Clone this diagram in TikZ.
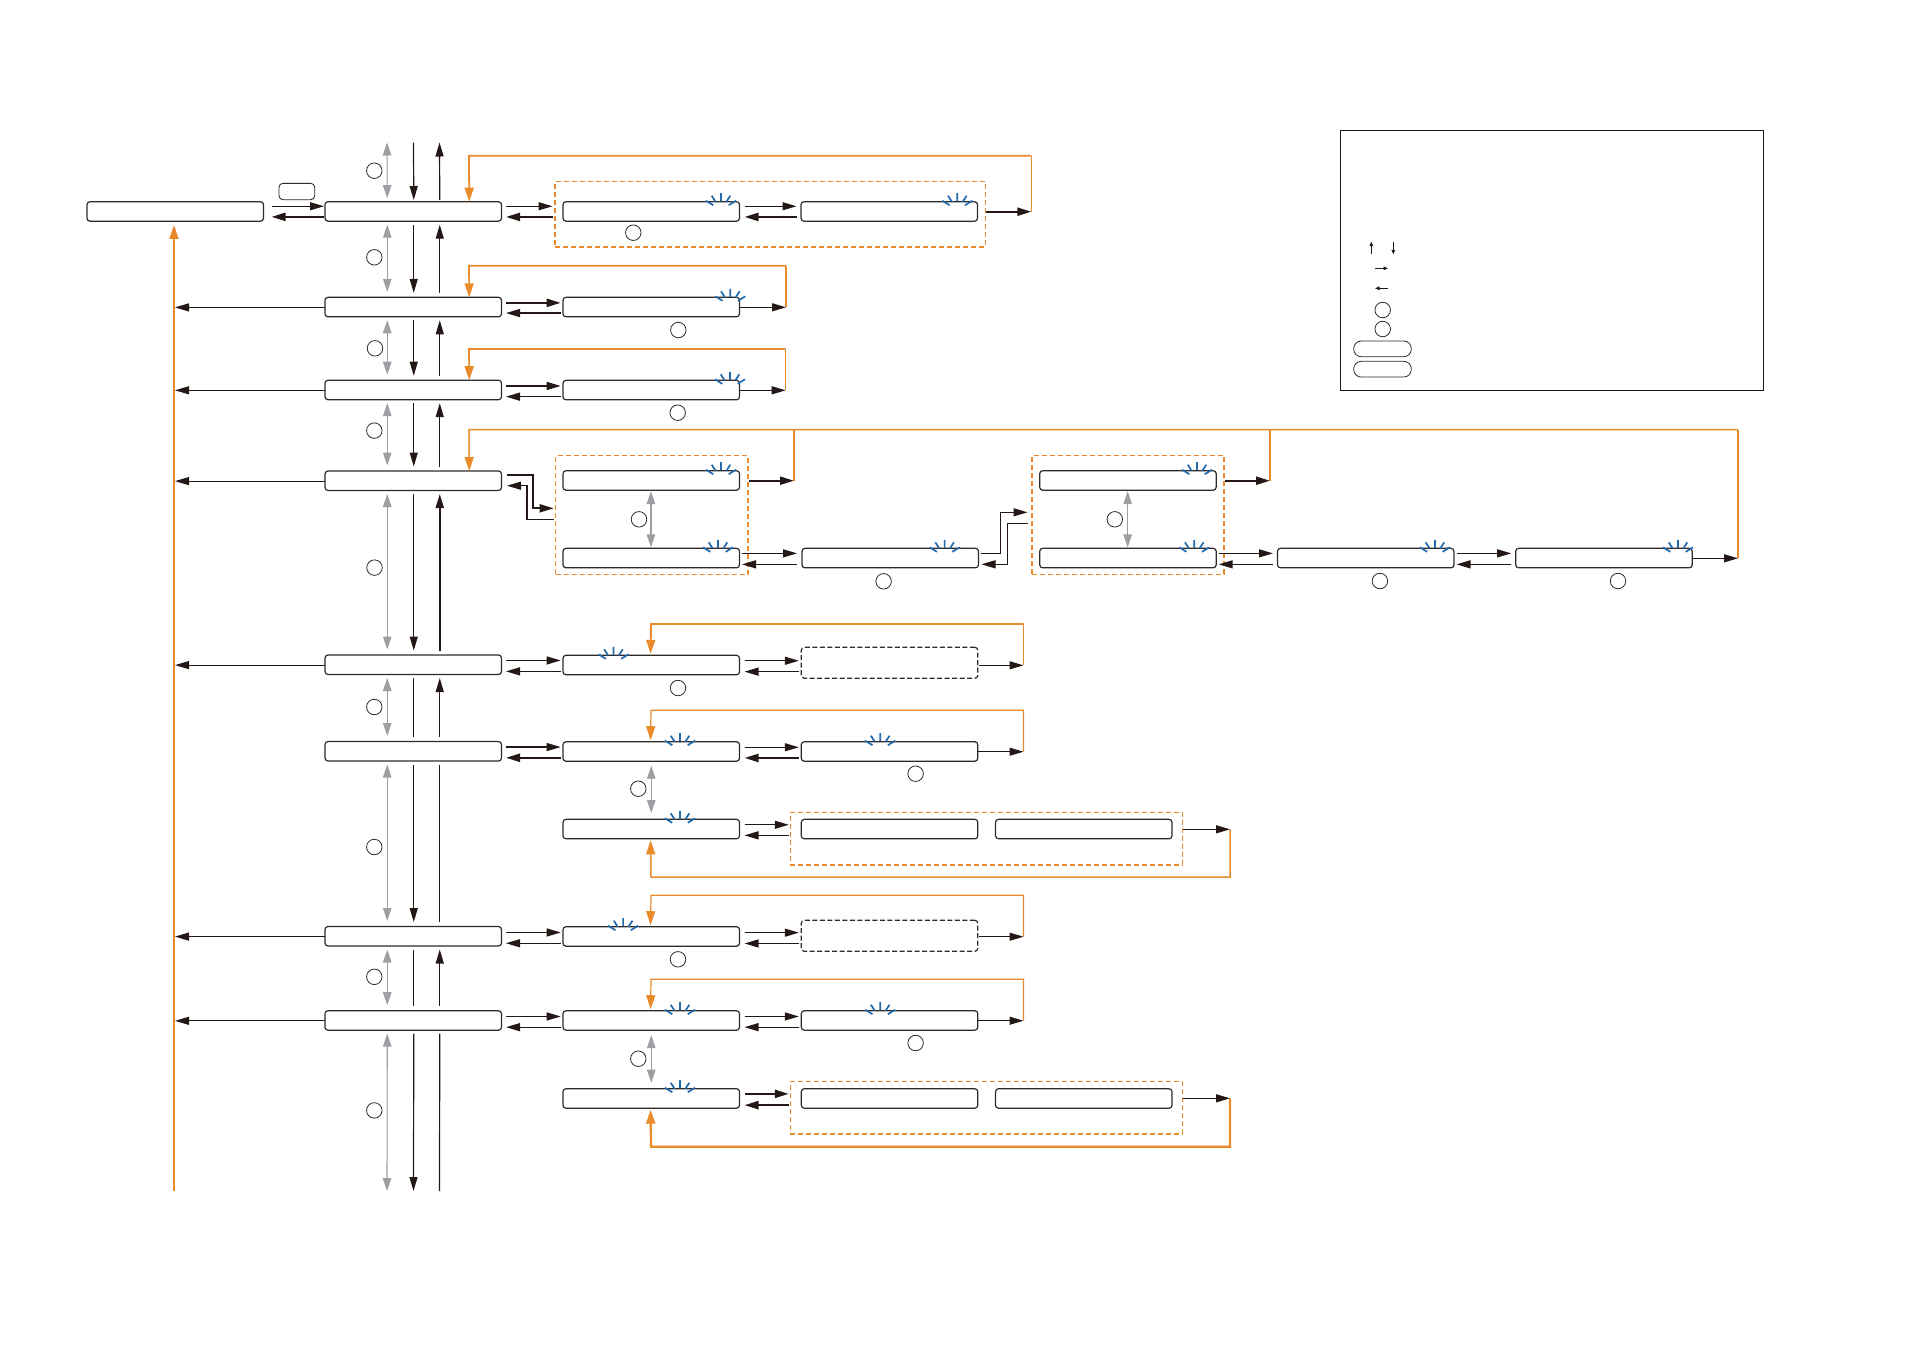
\documentclass[tikz,border=0pt]{standalone}
\usetikzlibrary{arrows.meta}
\definecolor{ink}{HTML}{231815}
\definecolor{boxc}{HTML}{2F2A28}
\definecolor{orng}{HTML}{E98B2A}
\definecolor{gry}{HTML}{9D9FA2}
\definecolor{blu}{HTML}{2369AD}
\tikzset{
  lcd/.style={draw=boxc,line width=1.2pt,rounded corners=3pt,minimum width=176.5pt,minimum height=19.5pt,inner sep=0pt,outer sep=0pt,anchor=north west,fill=white},
  dashlcd/.style={lcd,dash pattern=on 5pt off 2.5pt,minimum height=31pt},
  grp/.style={draw=orng,line width=1.5pt,dash pattern=on 5pt off 3pt,inner sep=0pt,outer sep=0pt,anchor=north west,minimum width=#1},
  circ/.style={circle,draw=boxc,line width=.8pt,minimum size=15.5pt,inner sep=0pt,outer sep=0pt,fill=white},
  pill/.style={draw=boxc,line width=.8pt,rounded corners=7.5pt,minimum width=57.6pt,minimum height=15.7pt,inner sep=0pt,outer sep=0pt,anchor=north west},
  conn/.style={draw=ink,line width=1.2pt},
  bold/.style={draw=ink,line width=2.2pt},
  hd/.style={-{Triangle[length=14pt,width=8pt,fill=ink,color=ink]}},
  oline/.style={draw=orng,line width=#1},
  ohd/.style={-{Triangle[length=14pt,width=9pt,fill=orng,color=orng]}},
  gline/.style={draw=gry,line width=1.1pt,{Triangle[length=13pt,width=8.5pt,fill=gry,color=gry]}-{Triangle[length=13pt,width=8.5pt,fill=gry,color=gry]}},
  sm/.style={draw=ink,line width=.9pt,-{Triangle[length=4.5pt,width=3.6pt,fill=ink,color=ink]}},
  blink/.pic={
    \draw[blu,line width=1.7pt] (0,-8.5)--(0,-.5) (-9.3,-6)--(-5.3,.2) (9.3,-6)--(5.3,.2) (-15,-1)--(-7.7,3.5) (15,-1)--(7.7,3.5);
  }
}
% #1 from #2 to, #3 #4 gaps, #5 #6 dy, #7 #8 line styles
\newcommand\pairs[8]{
  \draw[#7,hd] ([shift={(#3,#5)}]#1.east) -- ([shift={(-#4,#5)}]#1.east -| #2.west);
  \draw[#8,hd] ([shift={(-#4,#6)}]#1.east -| #2.west) -- ([shift={(#3,#6)}]#1.east);
}
% #1 upper #2 lower, #3 down head, #4 up head
\newcommand\vlinks[4]{
  \draw[gline] ([shift={(-26,3.5)}]#1.south) -- ([shift={(-26,-5.5)}]#2.north);
  \draw[conn,#3] ([shift={(.5,3.5)}]#1.south) -- ([shift={(.5,-4.5)}]#2.north);
  \draw[conn,#4] ([shift={(26.5,-4.5)}]#2.north) -- ([shift={(26.5,3.5)}]#1.south);
}
\begin{document}
\begin{tikzpicture}[x=1pt,y=-1pt]
\useasboundingbox (0,0) rectangle (1910,1350);
\fill[white] (0,0) rectangle (1910,1350);

% dashed groups
\node[grp=430.3pt,minimum height=65.3pt] (g0) at (555,181.7) {};
\node[grp=192.3pt,minimum height=118.6pt] (gd) at (555.7,455.7) {};
\node[grp=192pt,minimum height=118.6pt] (ge) at (1032,455.7) {};
\node[grp=392pt,minimum height=52.7pt] (gh) at (790.3,812.3) {};
\node[grp=392pt,minimum height=52.7pt] (gk) at (790.3,1081.3) {};

% main column
\node[lcd] (A) at (87,201.7) {};
\node[lcd] (r0) at (325,201.7) {};
\node[lcd] (r1) at (325,297.3) {};
\node[lcd] (r2) at (325,380.2) {};
\node[lcd] (r3) at (325,471) {};
\node[lcd] (r4) at (325,655) {};
\node[lcd] (r5) at (325,741.5) {};
\node[lcd] (r7) at (325,926.5) {};
\node[lcd] (r8) at (325,1010.7) {};

% sub boxes
\node[lcd] (a1) at (563,201.7) {};
\node[lcd] (a2) at (801,201.7) {};
\node[lcd] (b1) at (563,297.3) {};
\node[lcd] (c1) at (563,380.3) {};
\node[lcd] (d1) at (563,470.7) {};
\node[lcd] (d2) at (563,548.3) {};
\node[lcd] (d3) at (802,548.3) {};
\node[lcd] (e1) at (1039.7,470.7) {};
\node[lcd] (e2) at (1039.7,548.3) {};
\node[lcd] (e3) at (1277.5,548.3) {};
\node[lcd] (e4) at (1515.7,548.3) {};
\node[lcd] (f1) at (563,655.3) {};
\node[dashlcd] (f2) at (801.3,647.3) {};
\node[lcd] (g1) at (563,741.7) {};
\node[lcd] (g2) at (801.3,741.7) {};
\node[lcd] (h1) at (563,819.3) {};
\node[lcd] (h2) at (801.3,819.3) {};
\node[lcd] (h3) at (995.5,819.3) {};
\node[lcd] (i1) at (563,926.7) {};
\node[dashlcd] (i2) at (801.3,920.3) {};
\node[lcd] (j1) at (563,1010.7) {};
\node[lcd] (j2) at (801.3,1010.7) {};
\node[lcd] (k1) at (563,1088.7) {};
\node[lcd] (k2) at (801.3,1088.7) {};
\node[lcd] (k3) at (995.5,1088.7) {};

% small key box
\node[lcd,minimum width=35.7pt,minimum height=16.4pt,line width=.9pt,rounded corners=4pt] (key) at (279,183.3) {};

% blink marks
\pic at ([xshift=158]a1.north west) {blink};
\pic at ([xshift=156.3]a2.north west) {blink};
\pic at ([xshift=167.3]b1.north west) {blink};
\pic at ([xshift=167]c1.north west) {blink};
\pic at ([xshift=158]d1.north west) {blink};
\pic at ([xshift=155]d2.north west) {blink};
\pic at ([xshift=142.6]d3.north west) {blink};
\pic at ([xshift=157.3]e1.north west) {blink};
\pic at ([xshift=154.5]e2.north west) {blink};
\pic at ([xshift=157.4]e3.north west) {blink};
\pic at ([xshift=162.3]e4.north west) {blink};
\pic at ([xshift=50.5]f1.north west) {blink};
\pic at ([xshift=117]g1.north west) {blink};
\pic at ([xshift=78.9]g2.north west) {blink};
\pic at ([xshift=117]h1.north west) {blink};
\pic at ([xshift=60.1]i1.north west) {blink};
\pic at ([xshift=117]j1.north west) {blink};
\pic at ([xshift=78.9]j2.north west) {blink};
\pic at ([xshift=117]k1.north west) {blink};

% free ends
\coordinate (vtop) at (413,142.5);
\coordinate (vbot) at (413,1191);
\coordinate (mainb) at (174,1191);

% vertical links
\draw[gline] ([xshift=-26]vtop) -- ([shift={(-26,-3.5)}]r0.north);
\draw[conn,hd] ([xshift=.5]vtop) -- ([shift={(.5,-1.7)}]r0.north);
\draw[conn,hd] ([shift={(26.5,-1.7)}]r0.north) -- ([xshift=26.5]vtop);
\vlinks{r0}{r1}{hd}{hd}
\vlinks{r1}{r2}{hd}{hd}
\vlinks{r2}{r3}{hd}{hd}
\vlinks{r3}{r4}{hd}{hd,line width=2pt}
\vlinks{r4}{r5}{}{hd}
\vlinks{r5}{r7}{hd}{}
\vlinks{r7}{r8}{}{hd}
\draw[gline] ([shift={(-26,3.5)}]r8.south) -- ([xshift=-26]vbot);
\draw[conn,hd] ([shift={(.5,3.5)}]r8.south) -- ([xshift=.5]vbot);
\draw[conn] ([xshift=26.5]vbot) -- ([shift={(26.5,3.5)}]r8.south);

% orange main line and its feeders
\draw[oline=2pt,ohd] (mainb) -- ([shift={(0,3.7)}]mainb |- A.south);
\foreach \n in {r1,r2,r3,r4,r7,r8}{
  \draw[conn,line width=1.05pt,hd] ([shift={(0,.35)}]\n.west) -- ([shift={(1,.35)}]\n.west -| mainb);
}

% horizontal pairs
\pairs{A}{r0}{8}{1}{-5.2}{5.4}{conn}{bold}
\pairs{r0}{g0}{4.5}{2.5}{-5.2}{5.5}{conn}{bold}
\pairs{a1}{a2}{5}{4.5}{-5.2}{5.5}{conn}{bold}
\pairs{r1}{b1}{4.5}{2.3}{-4.2}{6}{bold}{conn}
\pairs{r2}{c1}{4.5}{2.3}{-4}{6.7}{conn}{conn}
\pairs{r4}{f1}{4.5}{2.3}{-4.3}{6.6}{conn}{conn}
\pairs{f1}{f2}{5}{2.5}{-4.3}{6.6}{conn}{conn}
\pairs{r5}{g1}{4.5}{2.3}{-4.2}{6.5}{conn}{bold}
\pairs{g1}{g2}{5}{2.5}{-4.2}{6.5}{conn}{bold}
\pairs{h1}{gh}{5}{1.5}{-4.3}{6.3}{conn}{conn}
\pairs{r7}{i1}{4.5}{2.3}{-3.8}{7}{conn}{conn}
\pairs{i1}{i2}{5}{2.5}{-3.8}{7}{conn}{conn}
\pairs{r8}{j1}{4.5}{2.3}{-4}{6.7}{conn}{conn}
\pairs{j1}{j2}{5}{2.5}{-4}{6.7}{conn}{conn}
\pairs{k1}{gk}{5}{1.5}{-4.6}{6.7}{bold}{bold}
\pairs{d2}{d3}{2.5}{5}{-4.7}{6.3}{conn}{conn}
\pairs{e2}{e3}{2.5}{4.5}{-4.7}{6.3}{conn}{conn}
\pairs{e3}{e4}{2.5}{4.5}{-4.7}{6.3}{conn}{conn}

% row 3 stepped links
\coordinate (s1) at (533,474.7);
\coordinate (s2) at (533,508.3);
\coordinate (s3) at (527,485.7);
\coordinate (s4) at (527,519.3);
\draw[bold,line width=1.8pt,hd] (s1 -| r3.east) ++(5,0) -- (s1) -- (s2) -- ([xshift=-2]s2 -| gd.west);
\draw[conn,hd] ([xshift=-2]s4 -| gd.west) -- (s4) -- (s3) -- ([xshift=5.5]s3 -| r3.east);
\coordinate (u1) at (1000.4,553.3);
\coordinate (u2) at (1000.4,512.3);
\coordinate (u3) at (1007.5,564.3);
\coordinate (u4) at (1007.5,523.3);
\draw[conn,hd] ([xshift=2.4]u1 -| d3.east) -- (u1) -- (u2) -- ([xshift=-4.5]u2 -| ge.west);
\draw[conn,hd] ([xshift=-4.5]u4 -| ge.west) -- (u4) -- (u3) -- ([xshift=3]u3 -| d3.east);

% gray links inside groups
\draw[gline] ([shift={(-.3,1)}]d1.south) -- ([shift={(-.3,-1)}]d2.north);
\draw[gline] ([shift={(-.3,1)}]e1.south) -- ([shift={(-.3,-1)}]e2.north);
\draw[gline] ([shift={(0,4.5)}]g1.south) -- ([shift={(0,-6.3)}]h1.north);
\draw[gline] ([shift={(0,5)}]j1.south) -- ([shift={(0,-6)}]k1.north);

% orange return loops with black tails
\coordinate (t0) at (469,155.7);
\coordinate (q0) at (1031.3,211.7);
\draw[oline=1.2pt] (q0) -- (q0 |- t0);
\draw[oline=1.8pt,ohd] (q0 |- t0) -- (t0) -- ([xshift=56]r0.north);
\draw[bold,hd] (q0 -| g0.east) ++(1,0) -- (q0);

\coordinate (t1) at (469,265.8);
\coordinate (q1) at (786,307.3);
\draw[oline=2.2pt] (q1) -- (q1 |- t1);
\draw[oline=1.7pt,ohd] (q1 |- t1) -- (t1) -- ([xshift=56]r1.north);
\draw[conn,hd] (q1 -| b1.east) -- (q1);

\coordinate (t2) at (469,349);
\coordinate (q2) at (785.7,390.3);
\draw[oline=1.3pt] (q2) -- (q2 |- t2);
\draw[oline=1.7pt,ohd] (q2 |- t2) -- (t2) -- ([xshift=56]r2.north);
\draw[conn,hd] (q2 -| c1.east) -- (q2);

\coordinate (t3) at (469,429.7);
\coordinate (q3) at (794,480.7);
\coordinate (q4) at (1270,480.7);
\coordinate (q5) at (1738,558.3);
\draw[oline=1.1pt] (q3) -- (q3 |- t3);
\draw[oline=1.1pt] (q4) -- (q4 |- t3);
\draw[oline=1.1pt] (q5) -- (q5 |- t3);
\draw[oline=1.5pt,ohd] (q5 |- t3) -- (t3) -- ([xshift=56]r3.north);
\draw[bold,hd] (q3 -| gd.east) ++(1,0) -- (q3);
\draw[bold,hd] (q4 -| ge.east) ++(1,0) -- (q4);
\draw[conn,hd] (q5 -| e4.east) -- (q5);

\coordinate (t6) at (651,624);
\coordinate (q6) at (1023.5,665.3);
\draw[oline=1.2pt] (q6) -- (q6 |- t6);
\draw[oline=1.9pt,ohd] (q6 |- t6) -- (t6) -- ([xshift=-.7,yshift=1.5]f1.north);
\draw[conn,hd] ([xshift=1]q6 -| f2.east) -- (q6);

\coordinate (t7) at (651,710.3);
\coordinate (q7) at (1023.5,751.7);
\draw[oline=1.2pt,ohd] (q7) -- (q7 |- t7) -- (t7) -- ([xshift=-.7,yshift=1.5]g1.north);
\draw[conn,hd] (q7 -| g2.east) -- (q7);

\coordinate (t8) at (651,877);
\coordinate (q8) at (1230,829.3);
\draw[oline=1.5pt,ohd] (q8) -- (q8 |- t8) -- (t8) -- ([xshift=-.7,yshift=-1.5]h1.south);
\draw[conn,hd] ([xshift=1]q8 -| gh.east) -- (q8);

\coordinate (t9) at (651,895.3);
\coordinate (q9) at (1023.5,936.7);
\draw[oline=1.2pt,ohd] (q9) -- (q9 |- t9) -- (t9) -- ([xshift=-.7,yshift=1.5]i1.north);
\draw[conn,hd] ([xshift=1]q9 -| i2.east) -- (q9);

\coordinate (t10) at (651,979.3);
\coordinate (q10) at (1023.5,1020.7);
\draw[oline=1.2pt,ohd] (q10) -- (q10 |- t10) -- (t10) -- ([xshift=-.7,yshift=1.5]j1.north);
\draw[conn,hd] (q10 -| j2.east) -- (q10);

\coordinate (t11) at (651,1146.7);
\coordinate (q11) at (1230,1098.3);
\draw[oline=2.2pt,ohd] (q11) -- (q11 |- t11) -- (t11) -- ([xshift=-.7,yshift=-1.5]k1.south);
\draw[conn,hd] ([xshift=1]q11 -| gk.east) -- (q11);

% circles
\node[circ] (n1) at (374.3,170.7) {};
\node[circ] (n2) at (374.3,257.3) {};
\node[circ] (n3) at (375,348.3) {};
\node[circ] (n4) at (374.3,430.6) {};
\node[circ] (n5) at (374.5,567.6) {};
\node[circ] (n6) at (374.3,707) {};
\node[circ] (n7) at (374.3,847) {};
\node[circ] (n8) at (374.3,976.8) {};
\node[circ] (n9) at (374.3,1110.4) {};
\node[circ] (m1) at (633.3,232.7) {};
\node[circ] (m2) at (678.3,330) {};
\node[circ] (m3) at (677.7,412.7) {};
\node[circ] (m4) at (639,519.3) {};
\node[circ] (m5) at (883.6,581.3) {};
\node[circ] (m6) at (1114.8,519.3) {};
\node[circ] (m7) at (1379.9,581) {};
\node[circ] (m8) at (1618,581) {};
\node[circ] (m9) at (678,688) {};
\node[circ] (m10) at (915.6,773.7) {};
\node[circ] (m11) at (638.3,788.7) {};
\node[circ] (m12) at (678,959.3) {};
\node[circ] (m13) at (915.6,1043) {};
\node[circ] (m14) at (638.3,1058.7) {};

% legend
\node[draw=ink,line width=1.7pt,minimum width=423pt,minimum height=260pt,inner sep=0pt,outer sep=0pt,anchor=north west] (legend) at (1340.5,130.5) {};
\coordinate (l1) at (1371.3,254.3);
\coordinate (l2) at (1371.3,241.7);
\coordinate (l3) at (1393.3,241.7);
\coordinate (l4) at (1393.3,254.3);
\coordinate (l5) at (1375,268.3);
\coordinate (l6) at (1388,268.3);
\coordinate (l7) at (1388,288.3);
\coordinate (l8) at (1375,288.3);
\draw[sm] (l1) -- (l2);
\draw[sm] (l3) -- (l4);
\draw[sm] (l5) -- (l6);
\draw[sm] (l7) -- (l8);
\node[circ] (lc1) at (1382.7,310) {};
\node[circ] (lc2) at (1382.7,329) {};
\node[pill] (lp1) at (1353.7,341) {};
\node[pill] (lp2) at (1353.7,361.3) {};
\end{tikzpicture}
\end{document}
